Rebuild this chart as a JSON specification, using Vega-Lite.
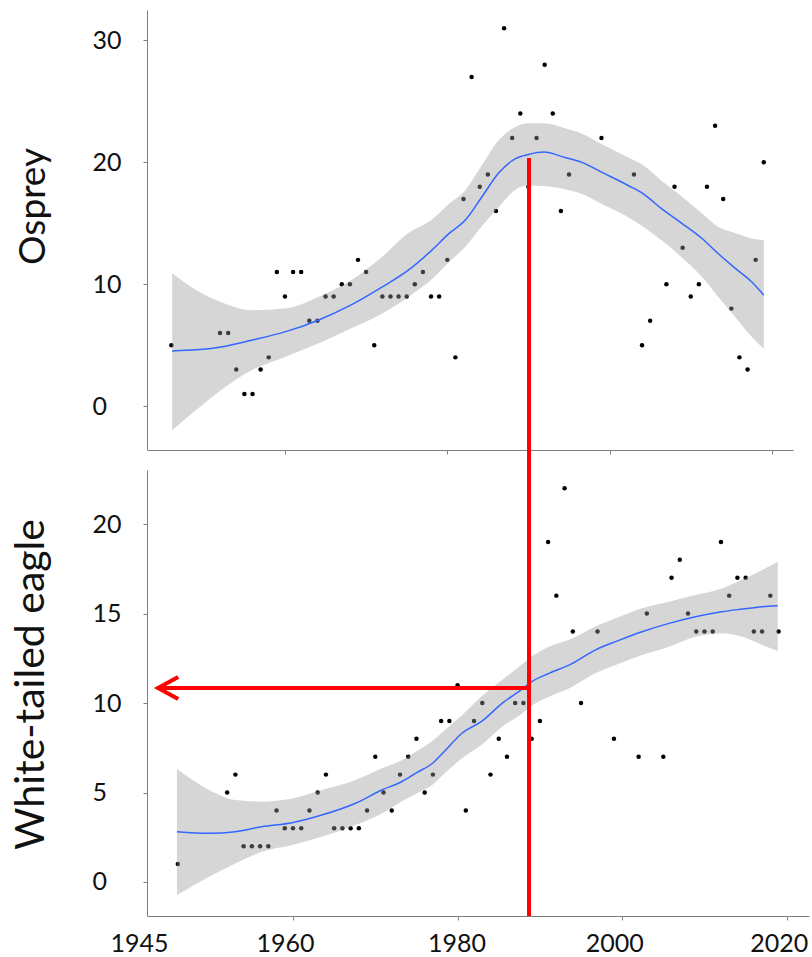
{
  "$schema": "https://vega.github.io/schema/vega-lite/v6.json",
  "padding": {"left": 10, "top": 10, "right": 5, "bottom": 0},
  "background": "white",
  "spacing": 20,
  "bounds": "flush",
  "config": {
    "view": {"stroke": null},
    "font": "Lato",
    "axis": {
      "grid": false,
      "domainColor": "#7f7f7f",
      "tickColor": "#7f7f7f",
      "tickSize": 4,
      "labelColor": "#111111",
      "titleColor": "#111111",
      "labelFont": "Lato",
      "titleFont": "Lato",
      "titleFontWeight": "normal"
    }
  },
  "datasets": {
    "osprey": [
      {"year": 1946, "count": 5}, {"year": 1952, "count": 6}, {"year": 1953, "count": 6}, {"year": 1954, "count": 3},
      {"year": 1955, "count": 1}, {"year": 1956, "count": 1}, {"year": 1957, "count": 3}, {"year": 1958, "count": 4},
      {"year": 1959, "count": 11}, {"year": 1960, "count": 9}, {"year": 1961, "count": 11}, {"year": 1962, "count": 11},
      {"year": 1963, "count": 7}, {"year": 1964, "count": 7}, {"year": 1965, "count": 9}, {"year": 1966, "count": 9},
      {"year": 1967, "count": 10}, {"year": 1968, "count": 10}, {"year": 1969, "count": 12}, {"year": 1970, "count": 11},
      {"year": 1971, "count": 5}, {"year": 1972, "count": 9}, {"year": 1973, "count": 9}, {"year": 1974, "count": 9},
      {"year": 1975, "count": 9}, {"year": 1976, "count": 10}, {"year": 1977, "count": 11}, {"year": 1978, "count": 9},
      {"year": 1979, "count": 9}, {"year": 1980, "count": 12}, {"year": 1981, "count": 4}, {"year": 1982, "count": 17},
      {"year": 1983, "count": 27}, {"year": 1984, "count": 18}, {"year": 1985, "count": 19}, {"year": 1986, "count": 16},
      {"year": 1987, "count": 31}, {"year": 1988, "count": 22}, {"year": 1989, "count": 24}, {"year": 1990, "count": 18},
      {"year": 1991, "count": 22}, {"year": 1992, "count": 28}, {"year": 1993, "count": 24}, {"year": 1994, "count": 16},
      {"year": 1995, "count": 19}, {"year": 1999, "count": 22}, {"year": 2003, "count": 19}, {"year": 2004, "count": 5},
      {"year": 2005, "count": 7}, {"year": 2007, "count": 10}, {"year": 2008, "count": 18}, {"year": 2009, "count": 13},
      {"year": 2010, "count": 9}, {"year": 2011, "count": 10}, {"year": 2012, "count": 18}, {"year": 2013, "count": 23},
      {"year": 2014, "count": 17}, {"year": 2015, "count": 8}, {"year": 2016, "count": 4}, {"year": 2017, "count": 3},
      {"year": 2018, "count": 12}, {"year": 2019, "count": 20}
    ],
    "ospreyFit": [
      {"year": 1946.1, "fit": 4.53, "lo": -1.97, "hi": 10.9},
      {"year": 1949.1, "fit": 4.62, "lo": -0.3, "hi": 9.5},
      {"year": 1952.1, "fit": 4.86, "lo": 1.31, "hi": 8.55},
      {"year": 1955.9, "fit": 5.41, "lo": 2.95, "hi": 7.87},
      {"year": 1960.0, "fit": 6.09, "lo": 4.04, "hi": 8.0},
      {"year": 1964.1, "fit": 7.05, "lo": 5.14, "hi": 8.96},
      {"year": 1968.1, "fit": 8.28, "lo": 6.37, "hi": 10.3},
      {"year": 1972.0, "fit": 9.78, "lo": 7.6, "hi": 12.27},
      {"year": 1975.2, "fit": 11.15, "lo": 8.96, "hi": 14.2},
      {"year": 1978.1, "fit": 12.8, "lo": 10.4, "hi": 15.3},
      {"year": 1980.2, "fit": 14.15, "lo": 11.8, "hi": 16.6},
      {"year": 1982.2, "fit": 15.25, "lo": 13.06, "hi": 17.7},
      {"year": 1984.3, "fit": 17.2, "lo": 14.8, "hi": 19.8},
      {"year": 1986.3, "fit": 19.1, "lo": 16.3, "hi": 21.8},
      {"year": 1988.4, "fit": 20.3, "lo": 17.76, "hi": 22.9},
      {"year": 1990.0, "fit": 20.65, "lo": 18.1, "hi": 23.2},
      {"year": 1991.9, "fit": 20.85, "lo": 18.05, "hi": 23.2},
      {"year": 1994.5, "fit": 20.4, "lo": 17.8, "hi": 22.8},
      {"year": 1996.6, "fit": 20.0, "lo": 17.4, "hi": 22.35},
      {"year": 1999.0, "fit": 19.2, "lo": 16.6, "hi": 21.5},
      {"year": 2002.3, "fit": 18.1, "lo": 15.5, "hi": 20.4},
      {"year": 2004.2, "fit": 17.4, "lo": 14.7, "hi": 19.75},
      {"year": 2006.4, "fit": 16.2, "lo": 13.6, "hi": 18.5},
      {"year": 2008.9, "fit": 15.0, "lo": 12.2, "hi": 17.2},
      {"year": 2011.4, "fit": 13.75, "lo": 10.6, "hi": 15.8},
      {"year": 2013.4, "fit": 12.5, "lo": 8.96, "hi": 14.7},
      {"year": 2015.5, "fit": 11.3, "lo": 7.3, "hi": 14.2},
      {"year": 2017.5, "fit": 10.2, "lo": 5.7, "hi": 13.75},
      {"year": 2019.0, "fit": 9.1, "lo": 4.7, "hi": 13.6}
    ],
    "eagle": [
      {"year": 1946, "count": 1}, {"year": 1952, "count": 5}, {"year": 1953, "count": 6}, {"year": 1954, "count": 2},
      {"year": 1955, "count": 2}, {"year": 1956, "count": 2}, {"year": 1957, "count": 2}, {"year": 1958, "count": 4},
      {"year": 1959, "count": 3}, {"year": 1960, "count": 3}, {"year": 1961, "count": 3}, {"year": 1962, "count": 4},
      {"year": 1963, "count": 5}, {"year": 1964, "count": 6}, {"year": 1965, "count": 3}, {"year": 1966, "count": 3},
      {"year": 1967, "count": 3}, {"year": 1968, "count": 3}, {"year": 1969, "count": 4}, {"year": 1970, "count": 7},
      {"year": 1971, "count": 5}, {"year": 1972, "count": 4}, {"year": 1973, "count": 6}, {"year": 1974, "count": 7},
      {"year": 1975, "count": 8}, {"year": 1976, "count": 5}, {"year": 1977, "count": 6}, {"year": 1978, "count": 9},
      {"year": 1979, "count": 9}, {"year": 1980, "count": 11}, {"year": 1981, "count": 4}, {"year": 1982, "count": 9},
      {"year": 1983, "count": 10}, {"year": 1984, "count": 6}, {"year": 1985, "count": 8}, {"year": 1986, "count": 7},
      {"year": 1987, "count": 10}, {"year": 1988, "count": 10}, {"year": 1989, "count": 8}, {"year": 1990, "count": 9},
      {"year": 1991, "count": 19}, {"year": 1992, "count": 16}, {"year": 1993, "count": 22}, {"year": 1994, "count": 14},
      {"year": 1995, "count": 10}, {"year": 1997, "count": 14}, {"year": 1999, "count": 8}, {"year": 2002, "count": 7},
      {"year": 2003, "count": 15}, {"year": 2005, "count": 7}, {"year": 2006, "count": 17}, {"year": 2007, "count": 18},
      {"year": 2008, "count": 15}, {"year": 2009, "count": 14}, {"year": 2010, "count": 14}, {"year": 2011, "count": 14},
      {"year": 2012, "count": 19}, {"year": 2013, "count": 16}, {"year": 2014, "count": 17}, {"year": 2015, "count": 17},
      {"year": 2016, "count": 14}, {"year": 2017, "count": 14}, {"year": 2018, "count": 16}, {"year": 2019, "count": 14}
    ],
    "eagleFit": [
      {"year": 1945.9, "fit": 2.81, "lo": -0.73, "hi": 6.31},
      {"year": 1949.8, "fit": 2.72, "lo": 0.3, "hi": 5.14},
      {"year": 1953.0, "fit": 2.81, "lo": 1.04, "hi": 4.58},
      {"year": 1956.2, "fit": 3.09, "lo": 1.69, "hi": 4.49},
      {"year": 1959.9, "fit": 3.31, "lo": 2.07, "hi": 4.67},
      {"year": 1963.5, "fit": 3.74, "lo": 2.53, "hi": 5.14},
      {"year": 1967.6, "fit": 4.4, "lo": 3.18, "hi": 5.7},
      {"year": 1970.8, "fit": 5.14, "lo": 3.83, "hi": 6.35},
      {"year": 1973.2, "fit": 5.6, "lo": 4.5, "hi": 6.8},
      {"year": 1975.0, "fit": 6.1, "lo": 4.95, "hi": 7.3},
      {"year": 1977.0, "fit": 6.65, "lo": 5.45, "hi": 7.9},
      {"year": 1978.5, "fit": 7.35, "lo": 6.1, "hi": 8.5},
      {"year": 1980.5, "fit": 8.3, "lo": 6.9, "hi": 9.3},
      {"year": 1983.0, "fit": 9.0, "lo": 7.7, "hi": 10.4},
      {"year": 1985.4, "fit": 9.98, "lo": 8.68, "hi": 11.28},
      {"year": 1987.8, "fit": 10.76, "lo": 9.4, "hi": 12.15},
      {"year": 1989.0, "fit": 11.19, "lo": 9.85, "hi": 12.6},
      {"year": 1991.1, "fit": 11.66, "lo": 10.35, "hi": 13.15},
      {"year": 1993.9, "fit": 12.2, "lo": 10.9, "hi": 13.6},
      {"year": 1996.7, "fit": 12.96, "lo": 11.66, "hi": 14.26},
      {"year": 1999.6, "fit": 13.5, "lo": 12.2, "hi": 14.8},
      {"year": 2002.4, "fit": 13.98, "lo": 12.68, "hi": 15.29},
      {"year": 2005.7, "fit": 14.45, "lo": 13.15, "hi": 15.66},
      {"year": 2008.9, "fit": 14.82, "lo": 13.7, "hi": 16.03},
      {"year": 2012.1, "fit": 15.1, "lo": 13.9, "hi": 16.4},
      {"year": 2014.6, "fit": 15.25, "lo": 13.7, "hi": 16.9},
      {"year": 2017.0, "fit": 15.38, "lo": 13.24, "hi": 17.43},
      {"year": 2018.9, "fit": 15.44, "lo": 12.9, "hi": 17.9}
    ],
    "vline": [{"year": 1988.68, "y": -1.9, "y2": 40.45}],
    "hline": [{"year": 1943.6, "year2": 1988.68, "y": 10.84}],
    "arrowhead": [
      {"year": 1946.05, "y": 11.45, "o": 0},
      {"year": 1943.6, "y": 10.84, "o": 1},
      {"year": 1946.05, "y": 10.23, "o": 2}
    ]
  },
  "vconcat": [
    {
      "width": 646,
      "height": 440,
      "encoding": {
        "x": {"field": "year", "type": "quantitative",
              "scale": {"domain": [1943.0, 2022.6], "nice": false, "zero": false},
              "axis": {"values": [1960, 1980, 2000, 2020], "labels": false, "title": null, "tickSize": 4}}
      },
      "layer": [
        {
          "data": {"name": "osprey"},
          "mark": {"type": "circle", "size": 20, "color": "#000000", "opacity": 1},
          "encoding": {
            "y": {"field": "count", "type": "quantitative",
                  "scale": {"domain": [-3.6, 32.5], "nice": false, "zero": false},
                  "axis": {"values": [0, 10, 20, 30], "title": "Osprey", "titleFontSize": 37,
                           "titlePadding": 40, "titleY": 196, "labelFontSize": 25,
                           "labelAlign": "left", "labelPadding": 51, "labelBaseline": "middle"}}
          }
        },
        {
          "data": {"name": "ospreyFit"},
          "mark": {"type": "area", "color": "#999999", "opacity": 0.4, "interpolate": "monotone"},
          "encoding": {
            "y": {"field": "lo", "type": "quantitative"},
            "y2": {"field": "hi"}
          }
        },
        {
          "data": {"name": "ospreyFit"},
          "mark": {"type": "line", "color": "#3366FF", "strokeWidth": 1.5, "interpolate": "monotone"},
          "encoding": {
            "y": {"field": "fit", "type": "quantitative"}
          }
        }
      ]
    },
    {
      "width": 662,
      "height": 446,
      "encoding": {
        "x": {"field": "year", "type": "quantitative",
              "scale": {"domain": [1942.26, 2022.7], "nice": false, "zero": false},
              "axis": {"values": [1942.26, 1960, 1980, 2000, 2020], "title": null, "tickSize": 4,
                       "labelExpr": "datum.value < 1950 ? '1945' : format(datum.value, 'd')",
                       "labelFlush": false, "labelFontSize": 25, "labelPadding": 11,
                       "labelOffset": {"condition": {"test": "datum.value == 1980", "value": -1}, "value": -8},
                       "tickOpacity": {"condition": {"test": "datum.value < 1950", "value": 0}, "value": 1}}}
      },
      "layer": [
        {
          "data": {"name": "eagle"},
          "mark": {"type": "circle", "size": 20, "color": "#000000", "opacity": 1},
          "encoding": {
            "y": {"field": "count", "type": "quantitative",
                  "scale": {"domain": [-1.9, 23.02], "nice": false, "zero": false},
                  "axis": {"values": [0, 5, 10, 15, 20], "title": "White-tailed eagle", "titleFontSize": 41,
                           "titlePadding": 40, "titleY": 214, "labelFontSize": 25,
                           "labelAlign": "left", "labelPadding": 51, "labelBaseline": "middle"}}
          }
        },
        {
          "data": {"name": "eagleFit"},
          "mark": {"type": "area", "color": "#999999", "opacity": 0.4, "interpolate": "monotone"},
          "encoding": {
            "y": {"field": "lo", "type": "quantitative"},
            "y2": {"field": "hi"}
          }
        },
        {
          "data": {"name": "eagleFit"},
          "mark": {"type": "line", "color": "#3366FF", "strokeWidth": 1.5, "interpolate": "monotone"},
          "encoding": {
            "y": {"field": "fit", "type": "quantitative"}
          }
        },
        {
          "data": {"name": "vline"},
          "mark": {"type": "rule", "color": "#ff0000", "strokeWidth": 4},
          "encoding": {
            "y": {"field": "y", "type": "quantitative"},
            "y2": {"field": "y2"}
          }
        },
        {
          "data": {"name": "hline"},
          "mark": {"type": "rule", "color": "#ff0000", "strokeWidth": 4},
          "encoding": {
            "x2": {"field": "year2"},
            "y": {"field": "y", "type": "quantitative"}
          }
        },
        {
          "data": {"name": "arrowhead"},
          "mark": {"type": "line", "color": "#ff0000", "strokeWidth": 4, "strokeJoin": "miter", "strokeCap": "butt"},
          "encoding": {
            "y": {"field": "y", "type": "quantitative"},
            "order": {"field": "o", "type": "quantitative"}
          }
        }
      ]
    }
  ]
}
